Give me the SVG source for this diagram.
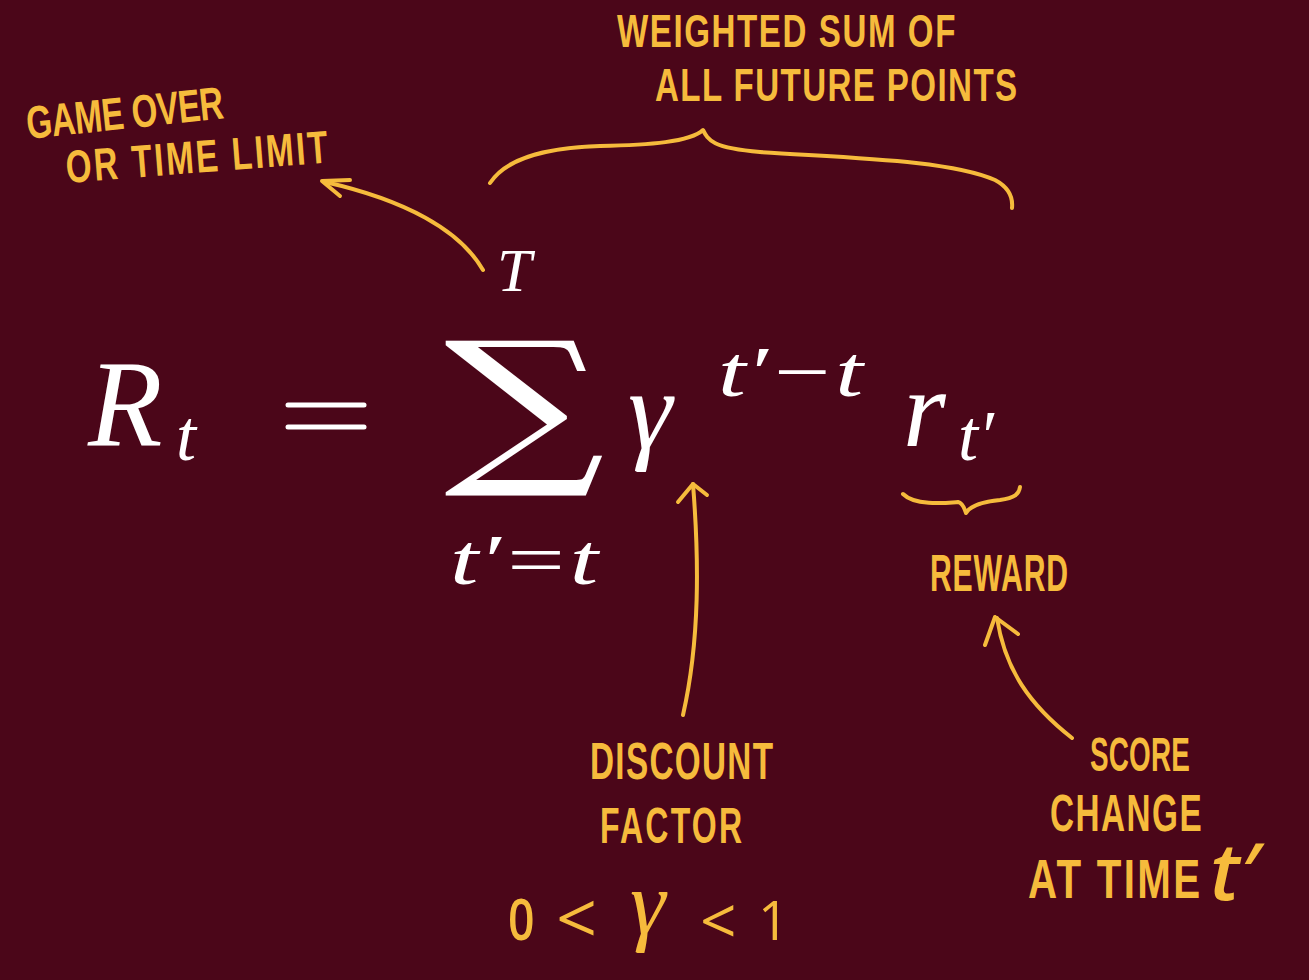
<svg xmlns="http://www.w3.org/2000/svg" width="1309" height="980" viewBox="0 0 1309 980">
<style>
.m{font-family:"Liberation Serif","DejaVu Serif",serif;font-style:italic;fill:#ffffff}
.mu{font-family:"DejaVu Serif","Liberation Serif",serif;fill:#ffffff}
.h{font-family:"Liberation Sans","Arial",sans-serif;font-weight:700;fill:#f6bb3c}
.o{font-family:"Open Sans","Lato",sans-serif;fill:#f6bb3c}
.c{fill:none;stroke:#f6bb3c;stroke-width:4;stroke-linecap:round;stroke-linejoin:round}
</style>
<rect width="1309" height="980" fill="#4b0619"/>
<g id="formula">
<text class="m" x="88" y="445" font-size="122">R</text>
<text class="m" x="176" y="460" font-size="72">t</text>
<line x1="288" y1="405" x2="364" y2="405" stroke="#fff" stroke-width="5" stroke-linecap="round"/>
<line x1="288" y1="427" x2="364" y2="427" stroke="#fff" stroke-width="5" stroke-linecap="round"/>
<text class="mu" x="444" y="463" font-size="170" textLength="161" lengthAdjust="spacingAndGlyphs">∑</text>
<text class="m" x="497" y="291" font-size="62">T</text>
<text class="m" x="450" y="584" font-size="72" textLength="148" lengthAdjust="spacingAndGlyphs">t′=t</text>
<text class="m" x="628" y="448" font-size="112">γ</text>
<text class="m" x="718" y="396" font-size="72" textLength="145" lengthAdjust="spacingAndGlyphs">t′−t</text>
<text class="m" x="903" y="446" font-size="110">r</text>
<text class="m" x="958" y="460" font-size="72">t′</text>
</g>
<g id="label-game-over">
<text class="h" font-size="46" transform="translate(28 139) rotate(-6) scale(0.72 1)" textLength="275" lengthAdjust="spacing">GAME OVER</text>
<text class="h" font-size="46" transform="translate(67 183) rotate(-4.5) scale(0.72 1)" textLength="365" lengthAdjust="spacing">OR TIME LIMIT</text>
</g>
<g id="label-weighted-sum">
<text class="h" font-size="46" transform="translate(617 47) scale(0.72 1)" textLength="470" lengthAdjust="spacing">WEIGHTED SUM OF</text>
<text class="h" font-size="46" transform="translate(655 101) scale(0.72 1)" textLength="503" lengthAdjust="spacing">ALL FUTURE POINTS</text>
</g>
<g id="label-reward">
<text class="h" font-size="52" transform="translate(930 591) scale(0.58 1)" textLength="238" lengthAdjust="spacing">REWARD</text>
</g>
<g id="label-discount">
<text class="h" font-size="52" transform="translate(590 779) scale(0.64 1)" textLength="286" lengthAdjust="spacing">DISCOUNT</text>
<text class="h" font-size="50" transform="translate(600 843) scale(0.64 1)" textLength="222" lengthAdjust="spacing">FACTOR</text>
<text class="o" font-size="58" font-weight="600" transform="translate(508 940) scale(0.8 1)">0</text>
<text class="o" x="556" y="944" font-size="72">&lt;</text>
<text class="m" x="630" y="934" font-size="90" style="fill:#f6bb3c">γ</text>
<text class="o" x="700" y="944" font-size="64">&lt;</text>
<text class="o" x="758" y="940" font-size="54">1</text>
</g>
<g id="label-score">
<text class="h" font-size="48" transform="translate(1090 771) scale(0.58 1)" textLength="172" lengthAdjust="spacing">SCORE</text>
<text class="h" font-size="52" transform="translate(1050 831) scale(0.64 1)" textLength="237" lengthAdjust="spacing">CHANGE</text>
<text class="h" font-size="56" transform="translate(1028 898) scale(0.72 1)" textLength="239" lengthAdjust="spacing">AT TIME</text>
<text class="o" x="1210" y="900" font-size="80" font-style="italic" font-weight="600">t′</text>
</g>
<g id="connectors">
<path class="c" d="M483,270 C460,230 405,200 325,182"/>
<path class="c" d="M350,180 L322,181 L340,196"/>
<path class="c" d="M490,183 C505,160 540,148 600,146 C650,145 690,142 703,130 C708,140 712,148 760,152 C850,158 950,160 995,180 C1010,188 1013,198 1012,208"/>
<path class="c" d="M683,715 C700,640 699,560 693,484"/>
<path class="c" d="M678,502 L693,484 L707,495"/>
<path class="c" d="M903,494 C915,506 945,503 958,502 C963,503 965,510 966,513 C970,506 980,502 1000,500 C1015,498 1019,494 1020,487"/>
<path class="c" d="M1072,738 C1030,705 1005,670 997,618"/>
<path class="c" d="M985,645 L995,617 L1018,634"/>
</g>
</svg>
